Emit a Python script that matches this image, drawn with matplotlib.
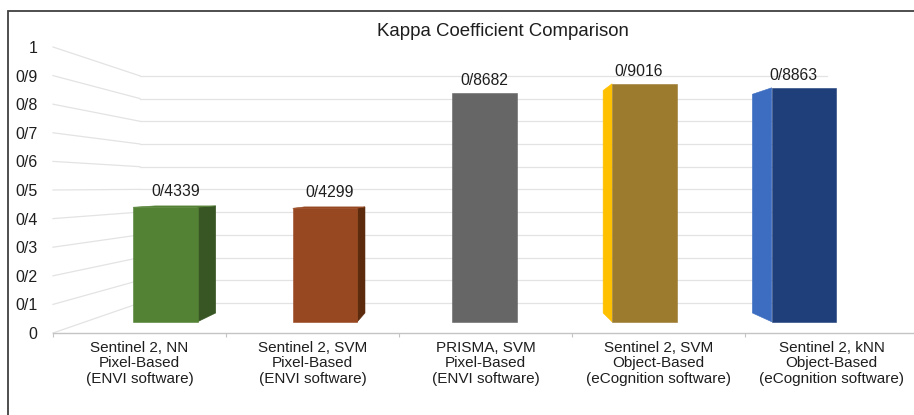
import matplotlib
matplotlib.use("Agg")
import matplotlib.pyplot as plt
from matplotlib.patches import Polygon, Rectangle
import numpy as np

# ---------------- data ----------------
categories = [
    "Sentinel 2, NN\nPixel-Based\n(ENVI software)",
    "Sentinel 2, SVM\nPixel-Based\n(ENVI software)",
    "PRISMA, SVM\nPixel-Based\n(ENVI software)",
    "Sentinel 2, SVM\nObject-Based\n(eCognition software)",
    "Sentinel 2, kNN\nObject-Based\n(eCognition software)",
]
kappa = [0.4339, 0.4299, 0.8682, 0.9016, 0.8863]
value_labels = ["0/4339", "0/4299", "0/8682", "0/9016", "0/8863"]
y_ticks = [0.0, 0.1, 0.2, 0.3, 0.4, 0.5, 0.6, 0.7, 0.8, 0.9, 1.0]
y_tick_labels = ["0", "0/1", "0/2", "0/3", "0/4", "0/5", "0/6", "0/7", "0/8", "0/9", "1"]
title = "Kappa Coefficient Comparison"

front_colors = ["#548235", "#984820", "#666666", "#9C7B2E", "#1F3F7A"]
side_colors = ["#375623", "#5C2A0C", "#4A4A4A", "#FFC000", "#3C6DC0"]

# ---------------- style / projection ----------------
plt.rcParams["font.family"] = ["Liberation Sans", "DejaVu Sans"]
TEXT = "#1E1E1E"
GRID = "#E3E3E3"

VP_X, VP_Y = 1.939, 0.5105          # vanishing point, in front-plane data units
S_BAR_FRONT, S_BAR_BACK, S_WALL = 0.923, 0.863, 0.794
BAR_W = 0.405


def proj(x, y, s):
    return (VP_X + s * (x - VP_X), VP_Y + s * (y - VP_Y))


W, H = 914, 415
fig = plt.figure(figsize=(W / 100, H / 100), dpi=100)
ax = fig.add_axes([53 / W, (H - 333) / H, 865 / W, 286 / H])
ax.set_xlim(-0.5, 4.5)
ax.set_ylim(0, 1)
for sp in ["top", "right", "left"]:
    ax.spines[sp].set_visible(False)
ax.spines["bottom"].set_color("#C4C4C4")
ax.spines["bottom"].set_linewidth(1.0)
ax.patch.set_visible(False)

# walls: gridlines
x0, x1 = -0.5, 4.5
for v in y_ticks:
    bl = proj(x0, v, S_WALL)
    br = proj(x1, v, S_WALL)
    ax.plot([bl[0], br[0]], [bl[1], br[1]], color=GRID, lw=0.9, zorder=1, clip_on=False)
    ax.plot([x0, bl[0]], [v, bl[1]], color=GRID, lw=0.9, zorder=1, clip_on=False)

# bars
for i, v in enumerate(kappa):
    xl, xr = i - BAR_W / 2, i + BAR_W / 2
    fc, sc = front_colors[i], side_colors[i]
    if VP_X > xr:
        xs = xr
    elif VP_X < xl:
        xs = xl
    else:
        xs = None
    if xs is not None:
        side = [proj(xs, 0, S_BAR_FRONT), proj(xs, v, S_BAR_FRONT),
                proj(xs, v, S_BAR_BACK), proj(xs, 0, S_BAR_BACK)]
        ax.add_patch(Polygon(side, closed=True, fc=sc, ec=sc, lw=0.4, zorder=2, clip_on=False))
    if v < VP_Y:
        top = [proj(xl, v, S_BAR_FRONT), proj(xr, v, S_BAR_FRONT),
               proj(xr, v, S_BAR_BACK), proj(xl, v, S_BAR_BACK)]
        ax.add_patch(Polygon(top, closed=True, fc=fc, ec=fc, lw=0.4, zorder=2, clip_on=False))
    front = [proj(xl, 0, S_BAR_FRONT), proj(xr, 0, S_BAR_FRONT),
             proj(xr, v, S_BAR_FRONT), proj(xl, v, S_BAR_FRONT)]
    ax.add_patch(Polygon(front, closed=True, fc=fc, ec=fc, lw=0.4, zorder=3, clip_on=False))
    lab = proj(i, v, (S_BAR_FRONT + S_BAR_BACK) / 2)
    ax.annotate(value_labels[i], xy=lab, xytext=(0, 11), textcoords="offset points",
                ha="center", va="center", fontsize=11.3, color=TEXT, zorder=5)

# axes ticks
ax.set_yticks(y_ticks)
ax.set_yticklabels(y_tick_labels)
ax.tick_params(axis="y", length=0, pad=11, labelsize=11.5, labelcolor=TEXT)
ax.set_xticks(range(len(categories)))
ax.set_xticklabels(categories)
ax.set_xticks(np.arange(-0.5, len(categories), 1.0), minor=True)
ax.tick_params(axis="x", which="major", length=0, pad=6, labelsize=11, labelcolor=TEXT)
ax.tick_params(axis="x", which="minor", length=3, width=0.8, color="#C4C4C4")
for t in ax.get_xticklabels():
    t.set_linespacing(1.1)

fig.text(503 / W, 1 - 32 / H, title, ha="center", va="center", fontsize=13.4, color=TEXT)

# outer frame (cropped at right / bottom)
fig.add_artist(Rectangle((8 / W, -0.2), 1.2, 1.2 - 11 / H, transform=fig.transFigure,
                         fill=False, ec="#404040", lw=1.3))

fig.savefig("out.png", dpi=100)
